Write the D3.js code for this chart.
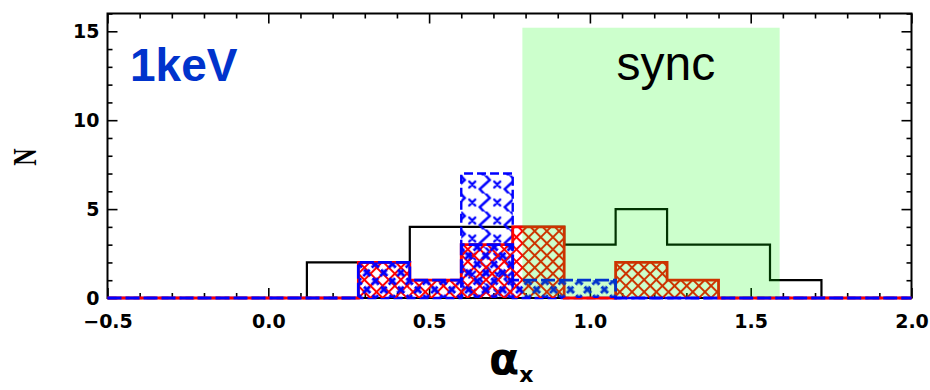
<!DOCTYPE html>
<html>
<head>
<meta charset="utf-8">
<script src="https://cdn.jsdelivr.net/npm/d3@7"></script>
<style>
  html, body { margin: 0; padding: 0; background: #fff; }
  svg { display: block; }
</style>
</head>
<body>
<svg id="chart" width="930" height="390"></svg>
<script>
// Histogram bin edges (spectral index alpha_x) and counts per bin
const binEdges = [0.12, 0.28, 0.44, 0.60, 0.76, 0.92, 1.08, 1.24, 1.40, 1.56, 1.72];
const allCounts   = [2, 2, 4, 4, 4, 3, 5, 3, 3, 1];
const redCounts   = [0, 2, 1, 3, 4, 0, 2, 1, 0, 0];
const blueCounts  = [0, 2, 1, 3, 1, 1, 0, 0, 0, 0];
const wavyCounts  = [0, 0, 0, 7, 0, 0, 0, 0, 0, 0];

// Synchrotron range band
const syncRange = [0.79, 1.59];
const syncTop = 15.2;

// Axes
const xDomain = [-0.5, 2.0];
const yDomain = [0, 16];
const xMajor = [-0.5, 0.0, 0.5, 1.0, 1.5, 2.0];
const xTickLabels = ["\u22120.5", "0.0", "0.5", "1.0", "1.5", "2.0"];
const yMajor = [0, 5, 10, 15];
const yTickLabels = ["0", "5", "10", "15"];

const svg = d3.select("#chart");
const L = 107.5, R = 911.5, T = 13.5, B = 298;
const x = d3.scaleLinear().domain(xDomain).range([L, R]);
const y = d3.scaleLinear().domain(yDomain).range([B, T]);

const xMinor = d3.range(-5, 21).map(i => i / 10).filter(v => !xMajor.some(m => Math.abs(m - v) < 1e-9));
const yMinor = d3.range(0, 17).filter(v => !yMajor.includes(v));

// ---------- patterns ----------
const defs = svg.append("defs");
function crossHatch(id, color, step, width, dash, ox, oy) {
  const p = defs.append("pattern").attr("id", id)
    .attr("patternUnits", "userSpaceOnUse")
    .attr("width", step).attr("height", step)
    .attr("patternTransform", `translate(${ox},${oy}) rotate(45)`);
  const g = p.append("g").attr("stroke", color).attr("stroke-width", width).attr("fill", "none");
  if (dash) g.attr("stroke-dasharray", dash);
  g.append("line").attr("x1", -1).attr("y1", 0).attr("x2", step + 1).attr("y2", 0);
  g.append("line").attr("x1", 0).attr("y1", -1).attr("x2", 0).attr("y2", step + 1);
  g.append("line").attr("x1", -1).attr("y1", step).attr("x2", step + 1).attr("y2", step);
  g.append("line").attr("x1", step).attr("y1", -1).attr("x2", step).attr("y2", step + 1);
}
crossHatch("hatchRed", "#ff0000", 8.6, 2.0, null, x(0.28), B);
crossHatch("hatchBlue", "#0000ff", 12, 2.8, "6,3", x(0.28), B);

// wavy lines with x marks
{
  const p = defs.append("pattern").attr("id", "wavyBlue")
    .attr("patternUnits", "userSpaceOnUse")
    .attr("width", 25).attr("height", 18)
    .attr("patternTransform", `translate(${x(0.60) + 5},${y(7) + 2})`);
  const g = p.append("g").attr("stroke", "#0000ff").attr("stroke-width", 2.4).attr("fill", "none")
    .attr("stroke-linecap", "round");
  g.append("path").attr("d", "M18.5,-1 L23.5,4.5 L18.5,9 L13.5,13.5 L18.5,19");
  g.append("path").attr("d", "M3,6 L9,12 M9,6 L3,12");
}

// ---------- axes (ticks inward on all sides) ----------
function axisGroup(axis, transform) {
  const g = svg.append("g").attr("transform", transform).call(axis);
  g.select(".domain").remove();
  g.selectAll(".tick line").attr("stroke", "#000").attr("stroke-width", 1.6);
  return g;
}
const fmtX = (d) => xTickLabels[xMajor.findIndex(m => Math.abs(m - d) < 1e-9)];
const fmtY = (d) => yTickLabels[yMajor.indexOf(d)];

axisGroup(d3.axisBottom(x).tickValues(xMajor).tickSize(-10).tickPadding(17).tickFormat(fmtX), `translate(0,${B})`);
axisGroup(d3.axisBottom(x).tickValues(xMinor).tickSize(-5).tickFormat(""), `translate(0,${B})`);
axisGroup(d3.axisTop(x).tickValues(xMajor).tickSize(-10).tickFormat(""), `translate(0,${T})`);
axisGroup(d3.axisTop(x).tickValues(xMinor).tickSize(-5).tickFormat(""), `translate(0,${T})`);
axisGroup(d3.axisLeft(y).tickValues(yMajor).tickSize(-10).tickPadding(8).tickFormat(fmtY), `translate(${L},0)`);
axisGroup(d3.axisLeft(y).tickValues(yMinor).tickSize(-5).tickFormat(""), `translate(${L},0)`);
axisGroup(d3.axisRight(y).tickValues(yMajor).tickSize(-10).tickFormat(""), `translate(${R},0)`);
axisGroup(d3.axisRight(y).tickValues(yMinor).tickSize(-5).tickFormat(""), `translate(${R},0)`);

svg.selectAll(".tick text")
  .attr("font-family", "'DejaVu Sans', sans-serif")
  .attr("font-weight", "bold")
  .attr("font-size", 19)
  .attr("fill", "#000");

// frame
svg.append("rect")
  .attr("x", L).attr("y", T).attr("width", R - L).attr("height", B - T)
  .attr("fill", "none").attr("stroke", "#000").attr("stroke-width", 2);

// ---------- histograms ----------
function stepPoints(counts) {
  const pts = [[xDomain[0], 0], [binEdges[0], 0]];
  counts.forEach((c, i) => {
    pts.push([binEdges[i], c]);
    pts.push([binEdges[i + 1], c]);
  });
  pts.push([binEdges[binEdges.length - 1], 0]);
  pts.push([xDomain[1], 0]);
  return pts;
}
const stepLine = d3.line().x(d => x(d[0])).y(d => y(d[1]));

function fillBins(counts, fill) {
  svg.append("g").selectAll("rect")
    .data(counts.map((c, i) => ({ c, x0: binEdges[i], x1: binEdges[i + 1] })).filter(d => d.c > 0))
    .join("rect")
    .attr("x", d => x(d.x0))
    .attr("y", d => y(d.c))
    .attr("width", d => x(d.x1) - x(d.x0))
    .attr("height", d => y(0) - y(d.c))
    .attr("fill", fill);
}
function outline(counts, color, width, dash) {
  const p = svg.append("path")
    .attr("d", stepLine(stepPoints(counts)))
    .attr("fill", "none")
    .attr("stroke", color)
    .attr("stroke-width", width)
    .attr("stroke-linejoin", "miter");
  if (dash) p.attr("stroke-dasharray", dash);
}

// full sample
outline(allCounts, "#000", 2.2);
// wavy-patterned subsample
fillBins(wavyCounts, "url(#wavyBlue)");
outline(wavyCounts, "#0000ff", 2.4, "9,4");
// red subsample
fillBins(redCounts, "url(#hatchRed)");
outline(redCounts, "#ff0000", 2.8);
// blue subsample
fillBins(blueCounts, "url(#hatchBlue)");
outline(blueCounts, "#0000ff", 2.8, "14,4");

// synchrotron band, translucent green over the histograms
svg.append("rect")
  .attr("x", x(syncRange[0])).attr("y", y(syncTop))
  .attr("width", x(syncRange[1]) - x(syncRange[0]))
  .attr("height", y(0) - y(syncTop) - 1.5)
  .attr("fill", "rgb(0,255,0)").attr("fill-opacity", 0.2);

// ---------- labels ----------
svg.append("text")
  .attr("x", 130).attr("y", 81)
  .attr("font-family", "'Liberation Sans', Arial, sans-serif")
  .attr("font-weight", "bold").attr("font-size", 46)
  .attr("fill", "#0033cc")
  .text("1keV");

svg.append("text")
  .attr("x", 616.5).attr("y", 80)
  .attr("font-family", "'Liberation Sans', Arial, sans-serif")
  .attr("font-size", 48)
  .attr("fill", "#000")
  .text("sync");

svg.append("text")
  .attr("transform", "translate(36,157) rotate(-90) scale(0.8,1.15)")
  .attr("text-anchor", "middle")
  .attr("font-family", "'Liberation Serif', serif")
  .attr("font-weight", "bold").attr("font-size", 30)
  .attr("fill", "#000")
  .text("N");

const xl = svg.append("text")
  .attr("x", 489).attr("y", 374)
  .attr("font-family", "'DejaVu Sans', sans-serif")
  .attr("fill", "#000");
xl.append("tspan").attr("font-size", 44).attr("font-weight", "bold").text("\u03b1");
xl.append("tspan").attr("font-size", 22).attr("font-weight", "bold").attr("dy", 8).text("x");
</script>
</body>
</html>
